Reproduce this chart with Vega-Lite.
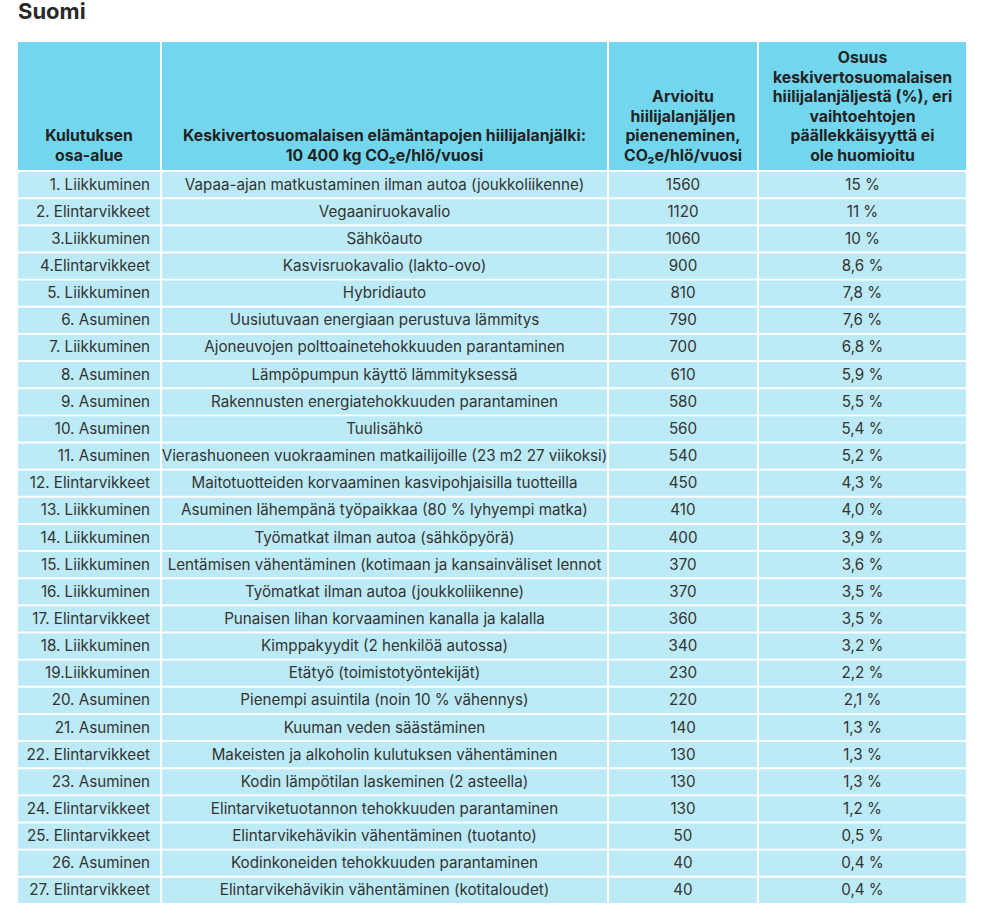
{
  "$schema": "https://vega.github.io/schema/vega-lite/v6.json",
  "background": "white",
  "padding": {"left": 18, "top": 1, "right": 0, "bottom": 0},
  "title": {"text": "Suomi", "anchor": "start", "frame": "group", "font": "Inter", "fontSize": 22, "fontWeight": "bold", "color": "#2a2a2a", "offset": 18},
  "datasets": {
    "rivit": [
      {"nro": 1, "ala": "1. Liikkuminen", "toimenpide": "Vapaa-ajan matkustaminen ilman autoa (joukkoliikenne)", "co2": 1560, "osuus": 15},
      {"nro": 2, "ala": "2. Elintarvikkeet", "toimenpide": "Vegaaniruokavalio", "co2": 1120, "osuus": 11},
      {"nro": 3, "ala": "3.Liikkuminen", "toimenpide": "Sähköauto", "co2": 1060, "osuus": 10},
      {"nro": 4, "ala": "4.Elintarvikkeet", "toimenpide": "Kasvisruokavalio (lakto-ovo)", "co2": 900, "osuus": 8.6},
      {"nro": 5, "ala": "5. Liikkuminen", "toimenpide": "Hybridiauto", "co2": 810, "osuus": 7.8},
      {"nro": 6, "ala": "6. Asuminen", "toimenpide": "Uusiutuvaan energiaan perustuva lämmitys", "co2": 790, "osuus": 7.6},
      {"nro": 7, "ala": "7. Liikkuminen", "toimenpide": "Ajoneuvojen polttoainetehokkuuden parantaminen", "co2": 700, "osuus": 6.8},
      {"nro": 8, "ala": "8. Asuminen", "toimenpide": "Lämpöpumpun käyttö lämmityksessä", "co2": 610, "osuus": 5.9},
      {"nro": 9, "ala": "9. Asuminen", "toimenpide": "Rakennusten energiatehokkuuden parantaminen", "co2": 580, "osuus": 5.5},
      {"nro": 10, "ala": "10. Asuminen", "toimenpide": "Tuulisähkö", "co2": 560, "osuus": 5.4},
      {"nro": 11, "ala": "11. Asuminen", "toimenpide": "Vierashuoneen vuokraaminen matkailijoille (23 m2 27 viikoksi)", "co2": 540, "osuus": 5.2},
      {"nro": 12, "ala": "12. Elintarvikkeet", "toimenpide": "Maitotuotteiden korvaaminen kasvipohjaisilla tuotteilla", "co2": 450, "osuus": 4.3},
      {"nro": 13, "ala": "13. Liikkuminen", "toimenpide": "Asuminen lähempänä työpaikkaa (80 % lyhyempi matka)", "co2": 410, "osuus": 4.0},
      {"nro": 14, "ala": "14. Liikkuminen", "toimenpide": "Työmatkat ilman autoa (sähköpyörä)", "co2": 400, "osuus": 3.9},
      {"nro": 15, "ala": "15. Liikkuminen", "toimenpide": "Lentämisen vähentäminen (kotimaan ja kansainväliset lennot", "co2": 370, "osuus": 3.6},
      {"nro": 16, "ala": "16. Liikkuminen", "toimenpide": "Työmatkat ilman autoa (joukkoliikenne)", "co2": 370, "osuus": 3.5},
      {"nro": 17, "ala": "17. Elintarvikkeet", "toimenpide": "Punaisen lihan korvaaminen kanalla ja kalalla", "co2": 360, "osuus": 3.5},
      {"nro": 18, "ala": "18. Liikkuminen", "toimenpide": "Kimppakyydit (2 henkilöä autossa)", "co2": 340, "osuus": 3.2},
      {"nro": 19, "ala": "19.Liikkuminen", "toimenpide": "Etätyö (toimistotyöntekijät)", "co2": 230, "osuus": 2.2},
      {"nro": 20, "ala": "20. Asuminen", "toimenpide": "Pienempi asuintila (noin 10 % vähennys)", "co2": 220, "osuus": 2.1},
      {"nro": 21, "ala": "21. Asuminen", "toimenpide": "Kuuman veden säästäminen", "co2": 140, "osuus": 1.3},
      {"nro": 22, "ala": "22. Elintarvikkeet", "toimenpide": "Makeisten ja alkoholin kulutuksen vähentäminen", "co2": 130, "osuus": 1.3},
      {"nro": 23, "ala": "23. Asuminen", "toimenpide": "Kodin lämpötilan laskeminen (2 asteella)", "co2": 130, "osuus": 1.3},
      {"nro": 24, "ala": "24. Elintarvikkeet", "toimenpide": "Elintarviketuotannon tehokkuuden parantaminen", "co2": 130, "osuus": 1.2},
      {"nro": 25, "ala": "25. Elintarvikkeet", "toimenpide": "Elintarvikehävikin vähentäminen (tuotanto)", "co2": 50, "osuus": 0.5},
      {"nro": 26, "ala": "26. Asuminen", "toimenpide": "Kodinkoneiden tehokkuuden parantaminen", "co2": 40, "osuus": 0.4},
      {"nro": 27, "ala": "27. Elintarvikkeet", "toimenpide": "Elintarvikehävikin vähentäminen (kotitaloudet)", "co2": 40, "osuus": 0.4}
    ]
  },
  "data": {"name": "rivit"},
  "spacing": 2,
  "vconcat": [
    {
      "spacing": 2,
      "bounds": "flush",
      "hconcat": [
        {
          "width": 142, "height": 128,
          "data": {"values": [{"otsikko": ["Kulutuksen", "osa-alue"]}]},
          "layer": [
            {"mark": {"type": "rect", "color": "#72D7EE"}, "encoding": {}},
            {"mark": {"type": "text", "baseline": "bottom", "dy": 38.4, "font": "Inter", "fontSize": 15.8, "fontWeight": "bold", "lineHeight": 19.6, "color": "#222222"}, "encoding": {"text": {"field": "otsikko"}}}
          ]
        },
        {
          "width": 445, "height": 128,
          "data": {"values": [{"otsikko": ["Keskivertosuomalaisen elämäntapojen hiilijalanjälki:", "10 400 kg CO₂e/hlö/vuosi"]}]},
          "layer": [
            {"mark": {"type": "rect", "color": "#72D7EE"}, "encoding": {}},
            {"mark": {"type": "text", "baseline": "bottom", "dy": 38.4, "font": "Inter", "fontSize": 15.8, "fontWeight": "bold", "lineHeight": 19.6, "color": "#222222"}, "encoding": {"text": {"field": "otsikko"}}}
          ]
        },
        {
          "width": 148, "height": 128,
          "data": {"values": [{"otsikko": ["Arvioitu", "hiilijalanjäljen", "pieneneminen,", "CO₂e/hlö/vuosi"]}]},
          "layer": [
            {"mark": {"type": "rect", "color": "#72D7EE"}, "encoding": {}},
            {"mark": {"type": "text", "baseline": "bottom", "dy": -0.8, "font": "Inter", "fontSize": 15.8, "fontWeight": "bold", "lineHeight": 19.6, "color": "#222222"}, "encoding": {"text": {"field": "otsikko"}}}
          ]
        },
        {
          "width": 207, "height": 128,
          "data": {"values": [{"otsikko": ["Osuus", "keskivertosuomalaisen", "hiilijalanjäljestä (%), eri", "vaihtoehtojen", "päällekkäisyyttä ei", "ole huomioitu"]}]},
          "layer": [
            {"mark": {"type": "rect", "color": "#72D7EE"}, "encoding": {}},
            {"mark": {"type": "text", "baseline": "bottom", "dy": -40, "font": "Inter", "fontSize": 15.8, "fontWeight": "bold", "lineHeight": 19.6, "color": "#222222"}, "encoding": {"text": {"field": "otsikko"}}}
          ]
        }
      ]
    },
    {
      "spacing": 2,
      "bounds": "flush",
      "hconcat": [
        {
          "width": 142, "height": 731,
          "encoding": {"y": {"field": "nro", "type": "ordinal", "axis": null, "scale": {"paddingInner": 0.07, "paddingOuter": 0}}},
          "layer": [
            {"mark": {"type": "rect", "color": "#BCEBF7"}},
            {"mark": {"type": "text", "align": "right", "dx": 61, "font": "Inter", "fontSize": 15.2, "color": "#333333"}, "encoding": {"text": {"field": "ala"}}}
          ]
        },
        {
          "width": 445, "height": 731,
          "encoding": {"y": {"field": "nro", "type": "ordinal", "axis": null, "scale": {"paddingInner": 0.07, "paddingOuter": 0}}},
          "layer": [
            {"mark": {"type": "rect", "color": "#BCEBF7"}},
            {"mark": {"type": "text", "font": "Inter", "fontSize": 15.2, "color": "#333333"}, "encoding": {"text": {"field": "toimenpide"}}}
          ]
        },
        {
          "width": 148, "height": 731,
          "encoding": {"y": {"field": "nro", "type": "ordinal", "axis": null, "scale": {"paddingInner": 0.07, "paddingOuter": 0}}},
          "layer": [
            {"mark": {"type": "rect", "color": "#BCEBF7"}},
            {"mark": {"type": "text", "font": "Inter", "fontSize": 15.2, "color": "#333333"}, "encoding": {"text": {"field": "co2", "type": "quantitative", "format": "d"}}}
          ]
        },
        {
          "width": 207, "height": 731,
          "transform": [{"calculate": "(datum.osuus >= 10 ? format(datum.osuus, 'd') : replace(format(datum.osuus, '.1f'), '.', ',')) + ' %'", "as": "osuus_teksti"}],
          "encoding": {"y": {"field": "nro", "type": "ordinal", "axis": null, "scale": {"paddingInner": 0.07, "paddingOuter": 0}}},
          "layer": [
            {"mark": {"type": "rect", "color": "#BCEBF7"}},
            {"mark": {"type": "text", "font": "Inter", "fontSize": 15.2, "color": "#333333"}, "encoding": {"text": {"field": "osuus_teksti"}}}
          ]
        }
      ]
    }
  ],
  "config": {"view": {"stroke": null}, "concat": {"spacing": 2}}
}
